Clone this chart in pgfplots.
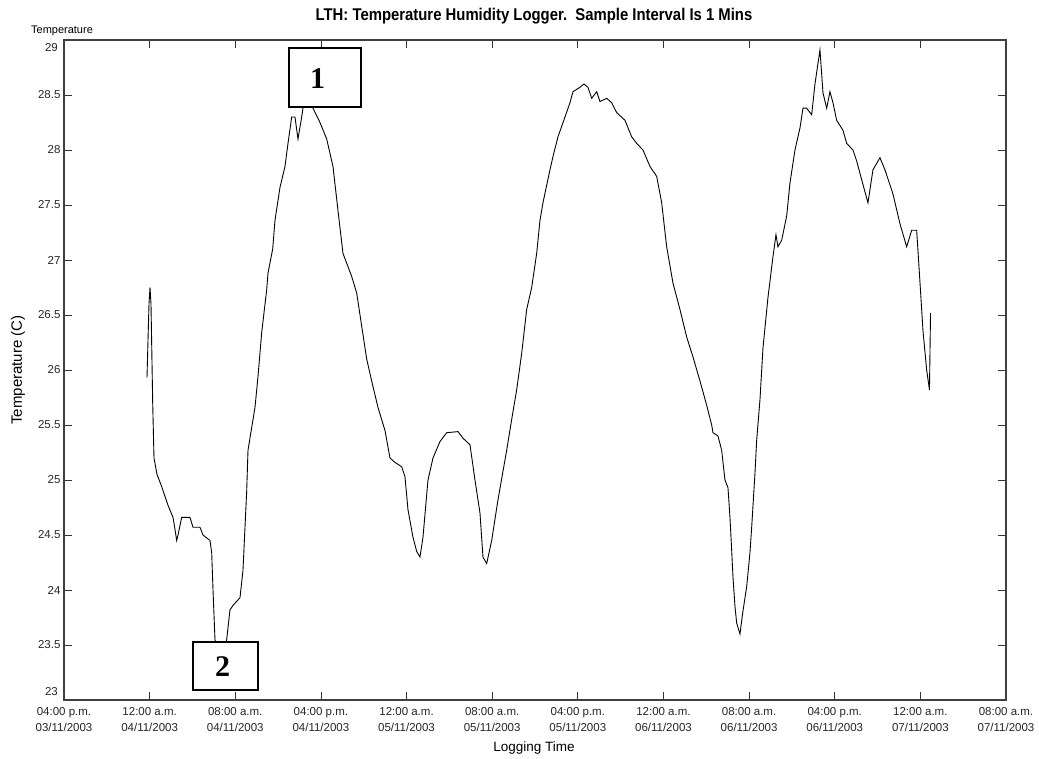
\documentclass[border=0pt]{standalone}
\usepackage{fontspec}
\setmainfont{Liberation Sans}
\newfontfamily\titlefont[FakeStretch=0.875]{Liberation Sans}
\newfontfamily\boxfont{Liberation Serif}
\usepackage{pgfplots}
\pgfplotsset{compat=1.18}
\begin{document}
\begin{tikzpicture}
\begin{axis}[
  width=942pt, height=660pt, scale only axis,
  xmin=0, xmax=88, ymin=23, ymax=29,
  xtick={0,8,16,24,32,40,48,56,64,72,80,88},
  xticklabels={{04:00 p.m.\\03/11/2003},{12:00 a.m.\\04/11/2003},{08:00 a.m.\\04/11/2003},{04:00 p.m.\\04/11/2003},{12:00 a.m.\\05/11/2003},{08:00 a.m.\\05/11/2003},{04:00 p.m.\\05/11/2003},{12:00 a.m.\\06/11/2003},{08:00 a.m.\\06/11/2003},{04:00 p.m.\\06/11/2003},{12:00 a.m.\\07/11/2003},{08:00 a.m.\\07/11/2003}},
  xticklabel style={font=\fontsize{11.5}{16}\selectfont, align=center, text=black!85, yshift=-4pt},
  ytick={23,23.5,24,24.5,25,25.5,26,26.5,27,27.5,28,28.5,29},
  yticklabels={,23.5,24,24.5,25,25.5,26,26.5,27,27.5,28,28.5,},
  yticklabel style={font=\fontsize{11.5}{14}\selectfont, text=black!85},
  major tick length=8pt,
  tick style={black!80, line width=0.8pt},
  axis line style={black!75, line width=1.1pt},
]
\addplot[black, line width=0.9pt] coordinates {
(7.753,25.93)(7.94,26.6)(8.034,26.75)(8.127,26.6)(8.286,25.7)(8.407,25.2)(8.69,25.05)(9.127,24.94)(9.715,24.77)(10.182,24.66)(10.37,24.55)(10.528,24.45)(10.65,24.5)(10.994,24.66)(11.77,24.66)(12.05,24.57)(12.704,24.57)(12.985,24.5)(13.638,24.45)(13.797,24.34)(13.92,24.0)(14.105,23.55)(14.48,23.4)(14.76,23.38)(15.04,23.45)(15.198,23.55)(15.507,23.82)(15.787,23.86)(16.441,23.93)(16.721,24.18)(17.067,24.9)(17.188,25.27)(17.842,25.66)(18.122,25.94)(18.468,26.34)(18.935,26.73)(19.056,26.88)(19.495,27.1)(19.71,27.36)(20.177,27.66)(20.644,27.85)(20.925,28.06)(21.27,28.3)(21.578,28.3)(21.858,28.1)(22.204,28.3)(22.325,28.38)(22.606,28.48)(22.793,28.5)(23.073,28.45)(23.26,28.38)(23.914,28.25)(24.54,28.1)(25.128,27.85)(25.595,27.45)(26.062,27.06)(26.875,26.85)(27.342,26.7)(27.809,26.4)(28.276,26.1)(28.743,25.9)(29.332,25.66)(29.986,25.45)(30.453,25.2)(30.92,25.16)(31.546,25.12)(31.854,25.03)(32.134,24.73)(32.601,24.48)(32.947,24.35)(33.255,24.3)(33.536,24.48)(34.003,25.0)(34.47,25.2)(35.124,25.35)(35.75,25.43)(36.805,25.44)(37.272,25.38)(37.926,25.32)(38.393,25.0)(38.86,24.7)(39.14,24.3)(39.486,24.24)(39.953,24.45)(40.542,24.82)(41.354,25.27)(41.821,25.55)(42.288,25.82)(42.755,26.15)(43.222,26.55)(43.689,26.75)(44.157,27.06)(44.465,27.36)(44.745,27.52)(45.399,27.82)(45.679,27.94)(46.147,28.12)(46.8,28.3)(47.267,28.43)(47.548,28.53)(48.202,28.57)(48.575,28.6)(48.949,28.57)(49.295,28.47)(49.762,28.53)(50.07,28.44)(50.696,28.47)(51.163,28.43)(51.63,28.34)(52.406,28.27)(53.032,28.12)(53.499,28.06)(54.087,28.0)(54.741,27.85)(55.367,27.76)(55.834,27.52)(56.301,27.12)(56.889,26.79)(57.543,26.55)(58.169,26.3)(58.757,26.12)(59.411,25.9)(60.037,25.68)(60.504,25.5)(60.626,25.43)(61.093,25.4)(61.439,25.27)(61.747,25.0)(62.027,24.93)(62.214,24.66)(62.373,24.36)(62.494,24.12)(62.681,23.85)(62.84,23.7)(63.148,23.6)(63.4,23.79)(63.774,24.03)(64.082,24.34)(64.241,24.57)(64.549,25.06)(64.708,25.36)(65.016,25.73)(65.297,26.2)(65.764,26.66)(66.231,27.03)(66.511,27.23)(66.698,27.12)(67.044,27.18)(67.511,27.4)(67.819,27.7)(68.286,28.0)(68.753,28.2)(69.033,28.38)(69.379,28.38)(69.846,28.32)(70.154,28.6)(70.621,28.91)(70.901,28.52)(71.247,28.38)(71.555,28.53)(71.835,28.43)(72.181,28.27)(72.769,28.18)(73.115,28.06)(73.704,28.0)(74.05,27.9)(74.517,27.73)(75.105,27.52)(75.572,27.82)(76.226,27.93)(76.693,27.82)(77.44,27.6)(78.094,27.33)(78.72,27.12)(79.187,27.27)(79.654,27.27)(79.962,26.8)(80.242,26.36)(80.588,26.0)(80.85,25.82)(80.95,26.52)
};
\end{axis}
% annotation boxes
\draw[line width=1.2pt, fill=white] (225pt,593pt) rectangle (297pt,652pt);
\node at (253.5pt,621pt) {\boxfont\bfseries\fontsize{30}{30}\selectfont 1};
\draw[line width=1.2pt, fill=white] (129pt,10pt) rectangle (194pt,58pt);
\node at (158.5pt,33pt) {\boxfont\bfseries\fontsize{30}{30}\selectfont 2};
% end tick labels
\node[anchor=east, inner sep=0pt, text=black!85, font=\fontsize{11.5}{14}\selectfont] at (-6pt,8pt) {23};
\node[anchor=east, inner sep=0pt, text=black!85, font=\fontsize{11.5}{14}\selectfont] at (-6pt,652pt) {29};
% labels and title
\node[font=\titlefont\bfseries\fontsize{17}{19}\selectfont] at (470pt,684pt) {LTH: Temperature Humidity Logger.\ \ Sample Interval Is 1 Mins};
\node[font=\fontsize{11}{12}\selectfont] at (-2pt,669pt) {Temperature};
\node[rotate=90, font=\fontsize{15}{16}\selectfont] at (-46pt,330pt) {Temperature (C)};
\node[font=\fontsize{13.5}{15}\selectfont] at (470pt,-48pt) {Logging Time};
\pgfresetboundingbox
\useasboundingbox (-64pt,-59pt) rectangle (975pt,700pt);
\end{tikzpicture}
\end{document}
